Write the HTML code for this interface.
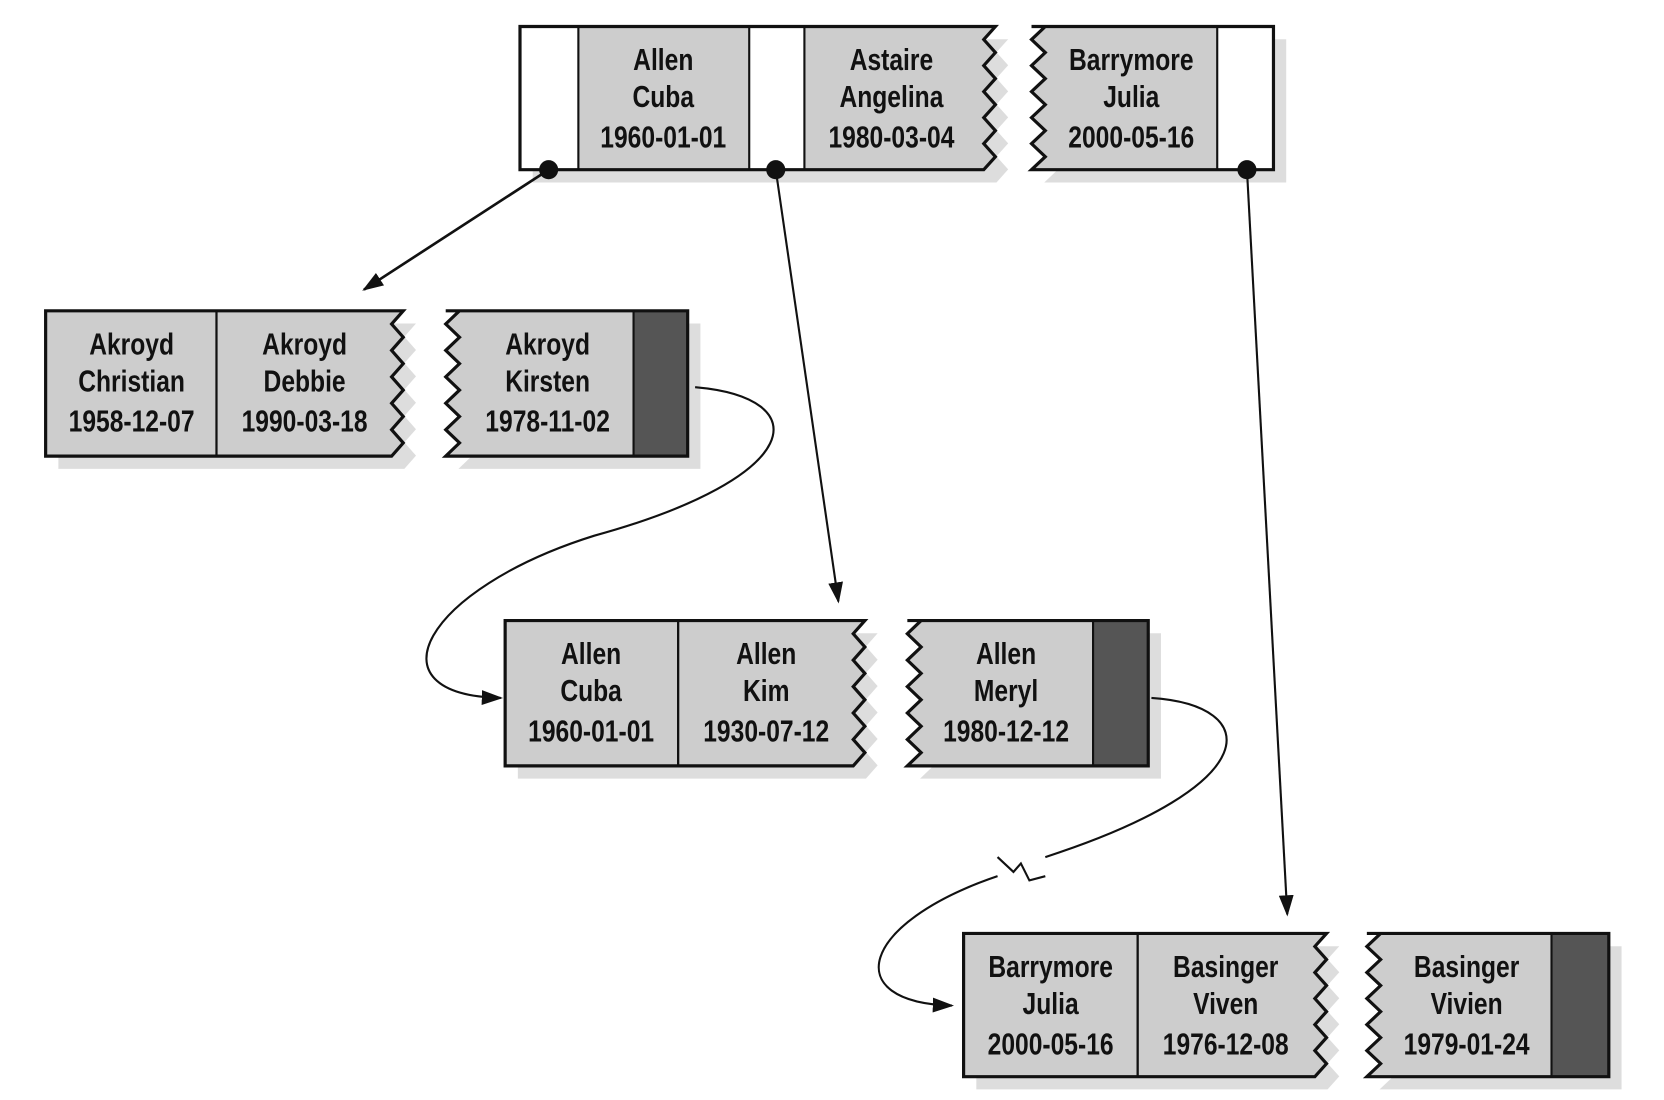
<!DOCTYPE html>
<html><head><meta charset="utf-8"><style>
html,body{margin:0;padding:0;background:#fff;width:1664px;height:1100px;overflow:hidden}
text{font-family:"Liberation Sans Narrow","Liberation Sans",sans-serif;font-weight:bold;font-size:29px;fill:#111;text-anchor:middle}
</style></head><body>
<svg id="s" width="1664" height="1100" viewBox="0 0 1568 1037" preserveAspectRatio="none" xmlns="http://www.w3.org/2000/svg">
<defs>
<marker id="ah" markerWidth="20" markerHeight="14" refX="18" refY="7" orient="auto" markerUnits="userSpaceOnUse" viewBox="0 0 20 14"><path d="M0,0 L20,7 L0,14 z" fill="#111"/></marker>
</defs>
<g id="g"></g>
<path d="M517,160 L343,273" stroke="#111" stroke-width="2.5" fill="none" marker-end="url(#ah)"/>
<path d="M731,160 L790,567" stroke="#111" stroke-width="2" fill="none" marker-end="url(#ah)"/>
<path d="M1175,160 L1213,862" stroke="#111" stroke-width="2" fill="none" marker-end="url(#ah)"/>
<path d="M655,365 C770,375 760,450 560,505 C400,555 345,655 472,658" stroke="#111" stroke-width="2" fill="none" marker-end="url(#ah)"/>
<path d="M1085,658 C1190,665 1195,740 985,808" stroke="#111" stroke-width="2" fill="none"/>
<path d="M940,826 C810,870 790,945 897,948" stroke="#111" stroke-width="2" fill="none" marker-end="url(#ah)"/>
<path d="M940,808 L955,822 L962,814 L970,830 L985,826" stroke="#111" stroke-width="2" fill="none"/>
<circle cx="517" cy="160" r="9" fill="#111"/>
<circle cx="731" cy="160" r="9" fill="#111"/>
<circle cx="1175" cy="160" r="9" fill="#111"/>
</svg>
<script>
var NS="http://www.w3.org/2000/svg",G=document.getElementById('g');
function el(t,a,p){var e=document.createElementNS(NS,t);for(var k in a)e.setAttribute(k,a[k]);(p||G).appendChild(e);return e;}
function zig(x,y1,y2,amp,down){var pts=[],n=Math.round((y2-y1)/12),st=(y2-y1)/n;for(var i=0;i<=n;i++){var y=down?y1+i*st:y2-i*st;pts.push([(i%2?x-amp:x),y]);}return pts;}
function box(x1,x2,y1,y2,lj,rj,cells,texts){
 var pts=[];pts.push([x1,y1]);
 if(rj){pts=pts.concat(zig(x2,y1,y2,11,true));}else{pts.push([x2,y1]);pts.push([x2,y2]);}
 if(lj){pts=pts.concat(zig(x1,y1,y2,-13,false));}else{pts.push([x1,y2]);}
 var d='M'+pts.map(function(p){return p[0]+','+p[1]}).join(' L')+' Z';
 el('path',{d:d,fill:'#d4d4d4',transform:'translate(12,12)',opacity:'0.8'});
 el('path',{d:d,fill:'#cdcdcd'});
 cells.forEach(function(c){el('rect',{x:c[0],y:y1,width:c[1]-c[0],height:y2-y1,fill:c[2]});});
 el('path',{d:d,fill:'none',stroke:'#111','stroke-width':3});
 cells.forEach(function(c){el('line',{x1:c[0],y1:y1,x2:c[0],y2:y2,stroke:'#111','stroke-width':2});el('line',{x1:c[1],y1:y1,x2:c[1],y2:y2,stroke:'#111','stroke-width':2});});
 texts.forEach(function(t){[t[1],t[2],t[3]].forEach(function(s,i){var e=el('text',{x:0,y:0,transform:'translate('+t[0]+','+(y1+[41,76,114][i])+') scale(0.8,1)'});e.textContent=s;});});
}
box(490,938,25,160,false,true,[[490,545,'#fff'],[706,758,'#fff']],[[625,'Allen','Cuba','1960-01-01'],[840,'Astaire','Angelina','1980-03-04']]);
box(972,1200,25,160,true,false,[[1147,1200,'#fff']],[[1066,'Barrymore','Julia','2000-05-16']]);
box(43,380,293,430,false,true,[[204,204,'none']],[[124,'Akroyd','Christian','1958-12-07'],[287,'Akroyd','Debbie','1990-03-18']]);
box(420,648,293,430,true,false,[[597,648,'#555']],[[516,'Akroyd','Kirsten','1978-11-02']]);
box(476,815,585,722,false,true,[[639,639,'none']],[[557,'Allen','Cuba','1960-01-01'],[722,'Allen','Kim','1930-07-12']]);
box(855,1082,585,722,true,false,[[1030,1082,'#555']],[[948,'Allen','Meryl','1980-12-12']]);
box(908,1250,880,1015,false,true,[[1072,1072,'none']],[[990,'Barrymore','Julia','2000-05-16'],[1155,'Basinger','Viven','1976-12-08']]);
box(1288,1516,880,1015,true,false,[[1462,1516,'#555']],[[1382,'Basinger','Vivien','1979-01-24']]);
</script>
</body></html>
